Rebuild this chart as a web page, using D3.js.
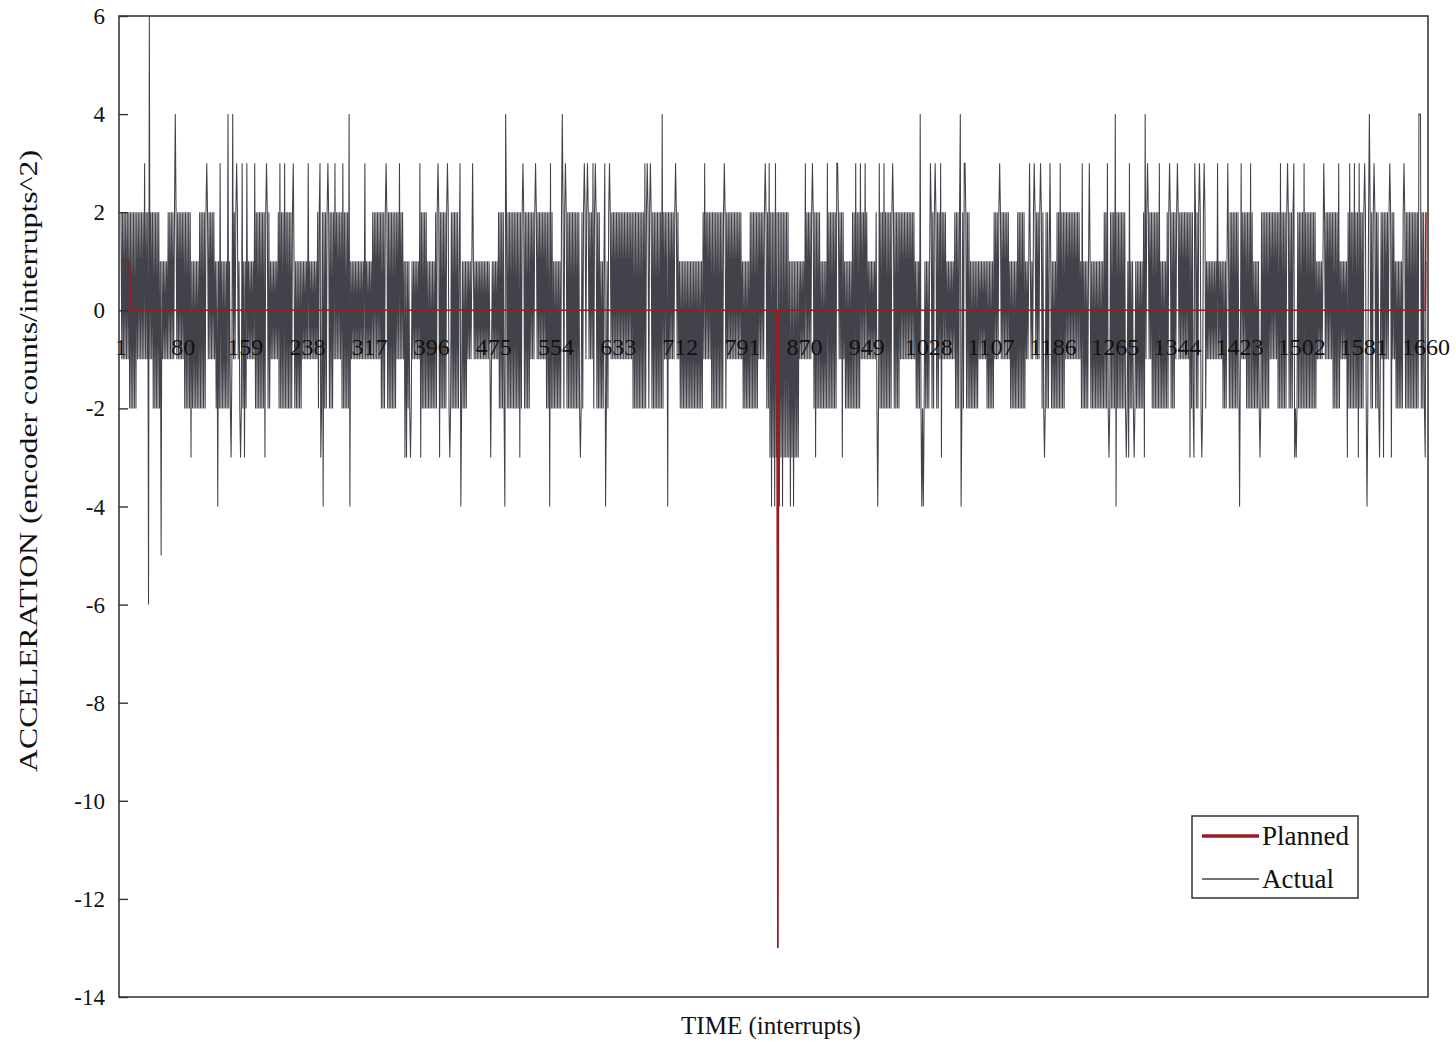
<!DOCTYPE html>
<html>
<head>
<meta charset="utf-8">
<script src="https://cdn.jsdelivr.net/npm/d3@7"></script>
<style>
  html, body { margin: 0; padding: 0; background: #ffffff; }
  svg { display: block; }
  text { font-family: "Liberation Serif", "DejaVu Serif", serif; fill: #111; }
</style>
</head>
<body>
<svg id="chart" width="1456" height="1042"></svg>
<script>
// ---------------- DATA ----------------
// X category tick labels (every 79 interrupts)
const xTickLabels = [1, 80, 159, 238, 317, 396, 475, 554, 633, 712, 791, 870, 949, 1028, 1107, 1186, 1265, 1344, 1423, 1502, 1581, 1660];
// Y tick labels
const yTickLabels = [6, 4, 2, 0, -2, -4, -6, -8, -10, -12, -14];
const seriesNames = ["Planned", "Actual"];

// Planned acceleration, stored as runs: run i starts at plannedRunStart[i] and holds plannedRunValue[i]
const plannedRunStart = [1, 13, 836, 837, 1660];
const plannedRunValue = [1, 0, -13, 0, 2];

// Actual acceleration, interrupts 1..1660 (10 values per row)
const actual = [
2,-1,2,-1,2,-1,2,-1,2,-1,
2,-2,2,-2,2,-2,2,-2,2,-2,
2,-1,2,-1,2,-1,2,-1,2,-1,
3,-1,2,-1,2,-6,6,-1,2,-1,
2,-2,2,-2,2,-2,2,-2,2,-2,
1,-5,1,-1,1,-1,1,-1,1,-1,
2,-1,2,-1,2,-1,2,-1,2,4,
2,-1,2,-1,2,-1,2,-1,2,-1,
2,-2,2,-2,2,-2,2,-2,2,-3,
1,-2,1,-2,1,-2,1,-2,1,-2,
2,-2,2,-2,2,-2,2,-2,2,3,
2,-1,2,-1,2,-1,2,-1,2,-1,
1,-2,1,-4,1,-2,3,-2,1,-2,
1,-2,1,-2,1,-2,4,-2,1,-2,
-3,-1,4,-1,2,-1,2,3,2,-1,
1,-2,-3,-2,3,-2,1,-3,1,-2,
3,-1,1,-1,1,-1,1,-1,1,-1,
3,-2,2,-2,2,-2,2,-2,2,-2,
2,-2,2,-3,2,3,2,-2,2,-2,
1,-1,1,-1,1,-1,1,-1,1,-1,
2,-2,3,-2,2,-2,2,-2,3,-2,
2,-2,2,-2,2,-2,2,-2,2,3,
1,-2,1,-2,1,-2,1,-2,1,-2,
1,-1,1,-1,1,-1,1,-1,3,-1,
1,-1,1,-1,1,-1,1,-1,1,-1,
2,-2,2,3,-3,-2,2,-4,2,-2,
2,-2,2,3,2,-2,2,-2,2,-2,
2,-1,3,-1,2,-1,2,-1,2,-1,
2,-2,3,-2,2,-2,2,-2,2,-2,
4,-4,1,-1,1,-1,1,-1,1,-1,
1,-1,1,-1,1,-1,1,-1,1,-1,
3,-1,1,-1,1,-1,1,-1,1,-1,
2,-1,2,-1,2,-1,2,-1,2,-1,
2,-2,2,-2,2,-2,2,3,2,-2,
2,-2,2,-2,2,-2,2,-2,2,-2,
2,-1,2,-1,3,-1,2,-1,2,-1,
1,-3,1,-3,1,-2,1,-2,-3,-2,
1,-1,1,-1,1,-1,1,-1,1,-1,
3,-3,2,-2,2,-2,2,-2,2,-2,
1,-2,1,-2,1,-2,1,-2,1,-2,
2,-2,2,3,2,-3,2,-2,2,-2,
2,-2,2,-2,2,3,2,-2,-3,-2,
2,-2,2,-2,2,-2,2,-2,2,-2,
1,3,-4,-2,1,-2,1,-2,1,-2,
1,-1,1,-1,1,-1,1,3,1,-1,
1,-1,1,-1,1,-1,1,-1,1,-1,
1,-1,1,-1,1,-1,1,-1,1,-1,
-3,-1,1,-1,1,-1,1,-1,1,-1,
2,-2,2,-2,2,-2,2,-2,-4,4,
2,-2,2,-2,2,-2,2,-2,2,-2,
2,-2,2,-2,2,-2,2,-3,2,-2,
2,3,2,-2,2,-2,2,-2,2,-2,
2,-1,2,-1,2,-1,2,3,2,-1,
2,-1,2,-1,2,-1,2,-1,2,-1,
2,-2,2,-2,2,-4,3,-2,2,-2,
1,-2,1,-2,1,-2,1,-2,1,-2,
2,4,2,-2,2,3,2,-2,2,-2,
2,-2,2,-2,2,-2,2,-2,2,-2,
2,-2,2,-2,-3,-2,2,-2,2,3,
2,-1,2,3,2,-1,2,-1,2,-1,
3,-2,2,3,2,-2,2,-2,2,-2,
1,-2,1,-2,1,3,-4,-2,1,-2,
2,3,2,-1,2,-1,2,-1,2,-1,
2,-1,2,-1,2,-1,2,-1,2,-1,
2,-1,2,-1,2,-1,2,-1,2,-1,
2,-2,2,-2,2,-2,2,-2,2,-2,
2,-2,2,-2,2,-2,3,-2,2,3,
2,-2,2,3,2,-2,2,-2,2,-2,
2,-2,2,-2,2,-2,2,-2,4,-2,
2,-1,2,-1,2,-4,2,-1,2,-1,
2,-1,2,-1,2,3,2,-1,2,-1,
1,-2,1,-2,1,-2,1,-2,1,-2,
1,-2,1,-2,1,-2,1,-2,1,-2,
1,-2,1,-2,1,-2,1,-2,1,-2,
2,-1,3,-1,2,-1,2,-1,2,-1,
2,-2,2,-2,2,-2,2,-2,2,-2,
2,-2,2,-2,2,-2,2,3,2,-2,
2,-1,2,-1,2,-1,2,-1,2,-1,
2,-1,2,-1,2,-1,2,-1,2,-1,
1,-2,1,-2,1,-2,1,-2,1,-2,
2,-2,2,-2,2,-2,2,-2,2,-2,
2,-1,2,-1,2,-1,2,-1,2,3,
2,-2,2,-2,3,-3,2,-4,2,-3,
2,-4,3,-3,2,-13,2,-4,2,-3,
2,-4,2,-3,2,-3,2,-3,2,-3,
1,-4,1,-3,1,-4,1,-3,1,-3,
1,-3,1,-1,1,-1,1,-1,1,-1,
3,-1,2,-1,2,-1,2,-1,2,3,
2,-2,2,-3,2,-2,2,-2,2,-2,
1,-2,1,-2,1,-2,1,-2,3,-2,
2,-2,2,-2,2,-2,2,-2,2,-2,
3,3,2,-1,2,-1,2,-3,2,-1,
1,-2,1,-2,1,-2,1,-2,1,-2,
2,-2,2,-2,3,-2,2,-2,2,-2,
3,-1,2,-1,2,-1,3,-1,2,-1,
1,-1,1,-1,1,-1,1,-1,1,-1,
2,-2,-4,-2,3,-2,2,-2,2,-2,
3,-2,2,-2,2,-2,2,-2,2,-2,
2,3,2,-2,2,-2,2,-2,2,-2,
2,-1,2,-1,2,-1,2,-1,2,-1,
2,-1,2,-1,2,-1,2,-1,2,-1,
1,-2,1,-2,1,-2,4,-2,-4,-2,
-4,-2,1,-2,1,-2,1,-2,1,3,
2,-2,2,-2,2,3,2,-2,2,-2,
2,-1,3,-3,2,-1,2,-1,2,-1,
1,-1,1,-1,1,-1,1,-1,1,-1,
2,-2,2,-2,2,-2,2,4,-4,-2,
2,-2,3,3,2,-2,2,-2,2,-2,
1,-2,1,-2,1,-2,1,-2,1,-2,
1,-1,1,-1,1,-1,1,-1,1,-1,
1,-2,1,-2,1,-2,1,-2,1,-2,
2,-1,2,-1,2,-1,2,3,2,-1,
2,-1,2,-1,2,-1,2,-1,2,-1,
1,-2,1,-2,1,-2,1,-2,1,-2,
2,-2,2,-2,2,-2,2,-2,2,-2,
1,-1,1,-1,1,3,1,-1,1,-1,
2,3,2,-1,2,-1,2,-1,2,3,
2,-2,2,-2,-3,-2,2,-2,2,-2,
1,3,1,-2,1,-2,1,-2,1,-2,
2,-2,2,-2,3,-2,2,-2,2,-2,
2,-1,2,-1,2,-1,2,-1,2,-1,
2,-1,2,-1,2,-1,2,-1,2,-1,
1,-2,3,-2,1,-2,1,-2,1,-2,
1,3,1,-2,1,-2,1,-2,1,-2,
1,-2,1,-2,1,-2,1,-2,1,-2,
2,-2,2,-2,3,-2,-3,-2,2,-2,
2,-2,2,-2,4,-4,2,-2,2,-2,
2,-2,2,-2,2,-2,2,-2,-3,-2,
1,-3,3,-2,1,-2,1,-2,-3,-2,
1,-2,1,-2,1,-2,1,-2,1,-2,
2,-3,4,-1,2,3,2,-1,2,-1,
2,-2,2,-2,2,-2,2,-2,2,-2,
3,-2,1,-2,1,-2,1,-2,1,-2,
2,-2,2,3,2,-2,2,-2,2,-2,
2,-1,2,3,2,-1,2,-1,2,-1,
2,-1,2,-1,2,-1,2,-1,2,-3,
2,-2,2,-2,-3,3,2,-2,2,-2,
2,3,2,-2,-3,-2,2,3,2,-2,
1,-1,1,-1,1,-1,1,-1,1,-1,
1,-1,1,-1,3,-1,1,-1,1,-1,
1,-2,1,-2,1,-2,1,3,1,-2,
2,-2,2,-2,2,-2,2,-2,2,-2,
2,-1,-4,-1,3,-1,2,-1,2,-1,
2,-2,2,-2,2,-2,3,-2,2,-2,
1,-2,1,-2,1,-2,1,-2,-3,-2,
2,-2,2,-2,2,-2,2,-2,2,-2,
2,-1,2,-1,2,-1,2,-1,2,-1,
2,-2,2,-2,3,-2,2,-2,2,-2,
2,-2,2,3,2,-2,2,-2,2,-2,
2,3,-3,-2,-3,-2,2,-2,2,-2,
2,-2,2,-2,3,-2,2,-2,2,-2,
2,-2,2,-2,2,-2,2,-2,2,-2,
1,-1,1,-1,1,-1,1,-1,1,3,
2,-1,2,-1,2,-1,2,-1,2,-1,
2,-2,2,-2,2,-2,2,-2,3,-2,
1,-1,1,-1,1,-1,1,-1,1,-3,
2,-2,3,-2,2,-2,2,-2,3,-2,
2,-2,2,-3,3,-2,2,-2,2,-2,
2,3,2,-2,-4,-2,2,4,2,-2,
2,-2,2,3,2,-2,2,-2,2,-2,
-3,-1,2,-1,2,-3,2,-1,2,-1,
2,-1,2,3,2,-3,2,-1,2,-1,
1,-2,1,-2,1,-2,1,-2,1,-2,
2,3,2,-2,2,-2,2,-2,2,-2,
2,-2,2,-2,2,-2,2,-2,2,-2,
4,4,4,-2,2,-2,2,-2,-3,1
];

// Build planned series from its runs
const planned = actual.map((_, i) => {
  const t = i + 1;
  let v = plannedRunValue[0];
  for (let r = 0; r < plannedRunStart.length; r++) if (plannedRunStart[r] <= t) v = plannedRunValue[r];
  return v;
});

// ---------------- CHART ----------------
const W = 1456, H = 1042;
const frame = { left: 119, right: 1428, top: 16, bottom: 997 };

const svg = d3.select("#chart");
svg.append("rect").attr("width", W).attr("height", H).attr("fill", "#ffffff");

const x = d3.scaleLinear().domain([1, actual.length]).range([121, 1426]);
const y = d3.scaleLinear().domain([-14, 6]).range([frame.bottom, frame.top]);

// Actual series
const line = d3.line().x((d, i) => x(i + 1)).y(d => y(d));
svg.append("path")
  .datum(actual)
  .attr("fill", "none")
  .attr("stroke", "#42424a")
  .attr("stroke-width", 1.05)
  .attr("d", line);

// Planned series
svg.append("path")
  .datum(planned)
  .attr("fill", "none")
  .attr("stroke", "#9e1a22")
  .attr("stroke-width", 1.6)
  .attr("d", line);

// Plot frame
svg.append("rect")
  .attr("x", frame.left).attr("y", frame.top)
  .attr("width", frame.right - frame.left).attr("height", frame.bottom - frame.top)
  .attr("fill", "none").attr("stroke", "#3a3a3a").attr("stroke-width", 1.6);

// Y axis (ticks pointing inward)
const yAxis = d3.axisRight(y).tickValues(yTickLabels).tickSize(9).tickFormat("");
const gy = svg.append("g").attr("transform", `translate(${frame.left},0)`).call(yAxis);
gy.select(".domain").remove();
gy.selectAll(".tick line").attr("stroke", "#333").attr("stroke-width", 1.4);

svg.append("g").selectAll("text")
  .data(yTickLabels).join("text")
  .attr("x", 105).attr("y", d => y(d))
  .attr("dy", "0.35em")
  .attr("text-anchor", "end")
  .style("font-size", "23px")
  .text(d => d);

// X category labels, sitting just below the zero line
svg.append("g").selectAll("text")
  .data(xTickLabels).join("text")
  .attr("x", d => x(d)).attr("y", y(0) + 45)
  .attr("text-anchor", "middle")
  .style("font-size", "24px")
  .text(d => d);

// Axis titles
svg.append("text")
  .attr("x", 771).attr("y", 1034)
  .attr("text-anchor", "middle")
  .style("font-size", "25px")
  .text("TIME (interrupts)");

svg.append("text")
  .attr("transform", "translate(37,461) rotate(-90)")
  .attr("text-anchor", "middle")
  .attr("textLength", 622)
  .attr("lengthAdjust", "spacingAndGlyphs")
  .style("font-size", "25px")
  .text("ACCELERATION (encoder counts/interrupts^2)");

// Legend
const lg = svg.append("g").attr("transform", "translate(1192,816)");
lg.append("rect").attr("width", 166).attr("height", 82)
  .attr("fill", "#ffffff").attr("stroke", "#333").attr("stroke-width", 1.5);
const legendColors = ["#9e1a22", "#42424a"];
const legendWidths = [3.5, 1.5];
seriesNames.forEach((name, i) => {
  const yy = 20 + i * 43;
  lg.append("line").attr("x1", 10).attr("x2", 67).attr("y1", yy).attr("y2", yy)
    .attr("stroke", legendColors[i]).attr("stroke-width", legendWidths[i]);
  lg.append("text").attr("x", 70).attr("y", yy).attr("dy", "0.35em")
    .style("font-size", "27px").text(name);
});
</script>
</body>
</html>
